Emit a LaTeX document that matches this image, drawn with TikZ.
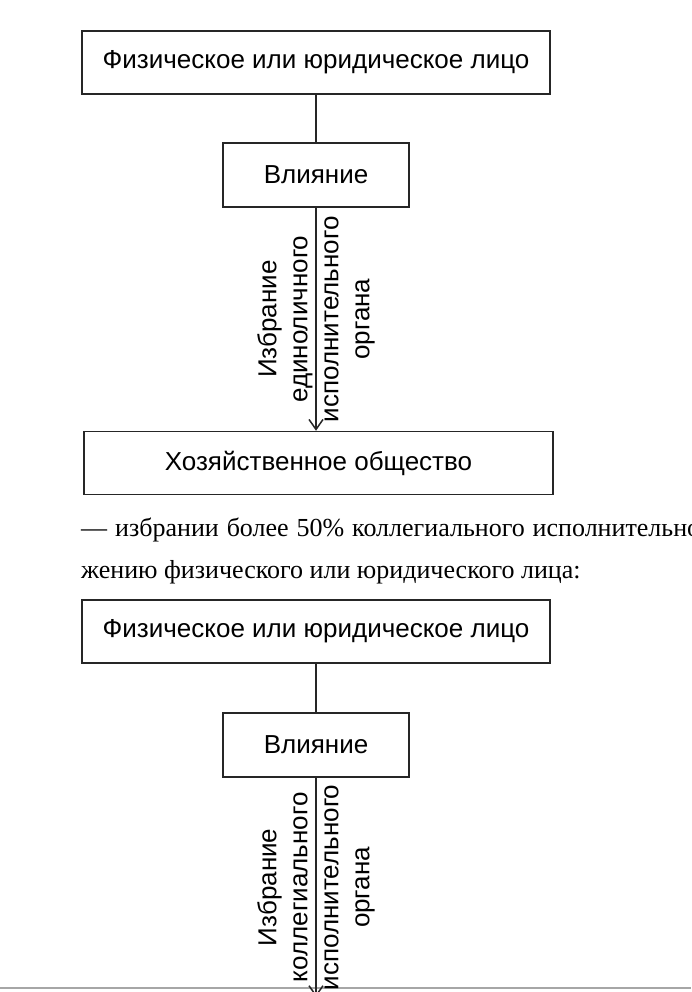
\documentclass[tikz,border=0pt]{standalone}
\usepackage{fontspec}
\setmainfont{Liberation Serif}
\setsansfont{Liberation Sans}
\usetikzlibrary{arrows.meta}

\begin{document}
\begin{tikzpicture}[x=1pt,y=-1pt,
  box/.style={draw=black!85,line width=1.5pt,fill=white,
    font=\sffamily\fontsize{26}{31}\selectfont},
  wide/.style={box,minimum width=468pt,minimum height=63pt},
  narrow/.style={box,minimum width=186pt,minimum height=64pt},
  link/.style={draw=black!85,line width=1.5pt},
  vlabel/.style={rotate=90,align=center,
    font=\sffamily\fontsize{26}{31}\selectfont},
  body/.style={anchor=base west,inner sep=0pt,
    font=\fontsize{26}{31}\selectfont}]
  \useasboundingbox (0,0) rectangle (691,992);
  \fill[white] (0,0) rectangle (691,992);
  % first scheme
  \node[wide] (face1) at (316,62.5) {Физическое или юридическое лицо};
  \node[narrow] (infl1) at (316,175) {Влияние};
  \node[wide,minimum width=469pt] (firm1) at (318.5,463) {Хозяйственное общество};
  \coordinate (tip1) at (infl1.south |- firm1.north);
  \draw[link] (face1) -- (infl1);
  \draw[link,-{Straight Barb[length=10pt,width=14pt]}] (infl1) --
    node[vlabel] {Избрание\\единоличного\\исполнительного\\органа} (tip1);
  % text between the schemes
  \node[body] (line1) at (81,536)
    {\makebox[619pt][s]{— избрании более 50\% коллегиального исполнительно}};
  \node[body] (line2) at (81,578) {жению физического или юридического лица:};
  % second scheme
  \node[wide] (face2) at (316,631.5) {Физическое или юридическое лицо};
  \node[narrow] (infl2) at (316,745) {Влияние};
  \coordinate (tip2) at (316,997);
  \draw[gray!70,line width=1.5pt] (0,988) -- (691,988);
  \draw[link] (face2) -- (infl2);
  \draw[link,-{Straight Barb[length=10pt,width=14pt]}] (infl2) --
    node[vlabel] {Избрание\\коллегиального\\исполнительного\\органа} (tip2);
\end{tikzpicture}
\end{document}
